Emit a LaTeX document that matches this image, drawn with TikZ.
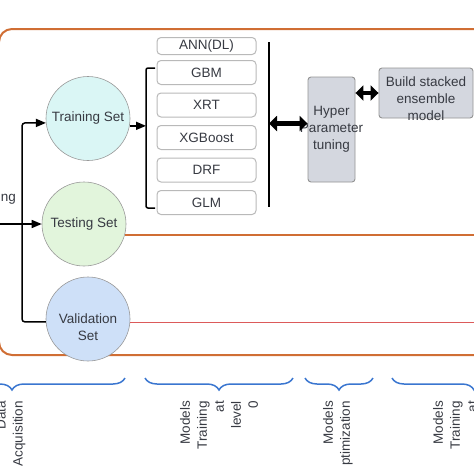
\documentclass[tikz,border=0pt]{standalone}
\usepackage{fontspec}
\setmainfont{Liberation Sans}
\usetikzlibrary{positioning, calc, arrows.meta, decorations.pathreplacing}
\definecolor{framecol}{RGB}{208,110,52}
\definecolor{redline}{RGB}{220,90,90}
\definecolor{bracecol}{RGB}{58,118,208}
\definecolor{trainfill}{RGB}{218,246,245}
\definecolor{testfill}{RGB}{226,245,220}
\definecolor{valfill}{RGB}{206,224,248}
\definecolor{hpfill}{RGB}{212,215,223}
\definecolor{txtcol}{RGB}{55,58,66}

\begin{document}
\begin{tikzpicture}[x=1pt, y=-1pt, >={Triangle[length=10pt,width=8pt]},
    every node/.style={align=center, inner sep=0pt, text=txtcol, font=\fontsize{13.5}{17}\selectfont},
    setnode/.style={circle, draw=gray!80, line width=0.6pt, minimum size=84pt},
    modelbox/.style={draw=gray!55, line width=1pt, rounded corners=4pt, fill=white, minimum width=99pt, minimum height=24pt},
    hpbox/.style={draw=gray!85, line width=0.9pt, rounded corners=3pt, fill=hpfill},
    link/.style={->, line width=1.5pt, rounded corners=3pt},
    dbl/.style={{Triangle[length=8pt,width=15pt]}-{Triangle[length=8pt,width=15pt]}, line width=4.5pt},
    stage/.style={rotate=90, anchor=east, align=right},
    stagebrace/.style={decorate, decoration={brace, amplitude=12pt}, draw=bracecol, line width=1.5pt}]
    \useasboundingbox (0,0) rectangle (474,474);

    % outer frame
    \draw [framecol, line width=2pt, rounded corners=13pt] (-1,29) rectangle (560,355);

    % data sets
    \node [setnode, fill=trainfill] (train) at (88,118.5) {Training Set};
    \node [setnode, fill=testfill] (test) at (84,224) {Testing Set};
    \node [setnode, fill=valfill] (val) at (88,319) {};
    \node (valtxt) at ([yshift=-8.5pt]val.center) {Validation\\Set};

    \coordinate (rightedge) at (480,0);
    \draw [framecol, line width=2pt] (test.-15) -- (test.-15 -| rightedge);
    \draw [redline, line width=1.5pt] (val.-5) -- (val.-5 -| rightedge);

    % splitting
    \coordinate (splitin) at (-5,224);
    \coordinate (split) at (22,224);
    \node [anchor=east] (splitlabel) at (16,198) {ing};
    \draw [link] (val.184) -| (split) |- (train.186);
    \draw [link] (splitin) -- (test.west);

    % level 0 models
    \node [modelbox] (gbm) at (206.5,72.5) {GBM};
    \node [modelbox, above=5pt of gbm, minimum height=17pt] (ann) {ANN(DL)};
    \node [modelbox, below=7.5pt of gbm] (xrt) {XRT};
    \node [modelbox, below=7.5pt of xrt] (xgb) {XGBoost};
    \node [modelbox, below=7.5pt of xgb] (drf) {DRF};
    \node [modelbox, below=7.5pt of drf] (glm) {GLM};

    \coordinate (brtop) at (146,68);
    \coordinate (brbot) at (146,208);
    \draw [line width=1.5pt, rounded corners=2pt] (155,68) -- (brtop) -- (brbot) -- (155,208);
    \draw [link] (train.-10) -- (train.-10 -| brtop);

    \coordinate (bartop) at (269,42);
    \coordinate (barbot) at (269,207);
    \draw [line width=2pt] (bartop) -- (barbot);

    % optimization and stacking
    \node [hpbox, minimum width=47pt, minimum height=105pt] (hyper) at (331.5,129.5) {};
    \node (hypertxt) at (hyper.center) {Hyper\\Parameter\\tuning};
    \node [hpbox, minimum width=94pt, minimum height=50pt] (build) at (426,93) {};
    \node (buildtxt) at ([yshift=-6pt]build.center) {Build stacked\\ensemble\\model};

    \coordinate (hpin) at ([yshift=6pt]hyper.west);
    \draw [dbl] (hpin -| bartop) -- (hpin);
    \draw [dbl] (hyper.east |- build.west) -- (build.west);

    % stages
    \draw [stagebrace] (125,378) -- (-101,378);
    \draw [stagebrace] (293,378) -- (145,378);
    \draw [stagebrace] (373,378) -- (305,378);
    \draw [stagebrace] (556,378) -- (392,378);

    \node [stage] (acq) at (11,401) {Data\\Acquisition};
    \node [stage] (lvlzero) at (219,401) {Models\\Training\\at\\level\\0};
    \node [stage] (opt) at (338,401) {Models\\ptimization};
    \node [stage] (lvlone) at (455,401) {Models\\Training\\at};
\end{tikzpicture}
\end{document}
